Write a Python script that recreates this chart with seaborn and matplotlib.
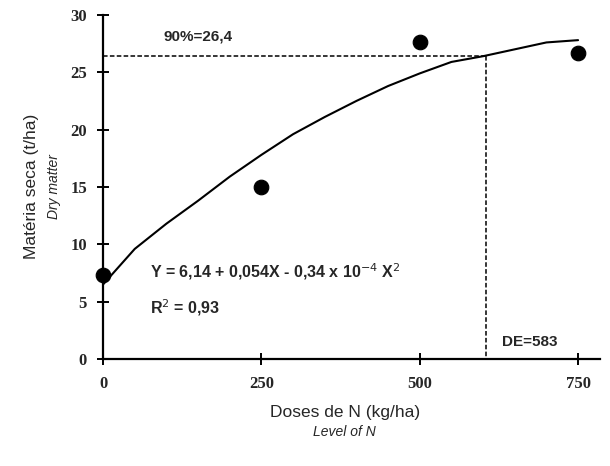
import seaborn as sns
import matplotlib.pyplot as plt
import pandas as pd

# observed points
doses = [0, 250, 500, 750]
materia_seca = [7.3, 15.0, 27.6, 26.7]

# fitted curve
curve_x = [0, 50, 100, 150, 200, 250, 300, 350, 400, 450, 500, 550, 600, 650, 700, 750]
curve_y = [6.5, 9.6, 11.8, 13.8, 15.9, 17.8, 19.6, 21.1, 22.5, 23.8, 24.9, 25.9, 26.4, 27.0, 27.6, 27.8]

# 90% reference lines
ref_h_x = [0, 605]
ref_h_y = [26.4, 26.4]
ref_v_x = [605, 605]
ref_v_y = [26.4, 0]

x_ticks = [0, 250, 500, 750]
x_tick_labels = ["0", "250", "500", "750"]
y_ticks = [0, 5, 10, 15, 20, 25, 30]

sns.set_style("white")
plt.rcParams['font.family'] = ['Liberation Sans', 'DejaVu Sans']

fig = plt.figure(figsize=(6.1, 4.66), dpi=100)
ax = fig.add_axes([0.169, 0.2296, 0.815, 0.7384])

df_curve = pd.DataFrame({'x': curve_x, 'y': curve_y})
df_pts = pd.DataFrame({'x': doses, 'y': materia_seca})

sns.lineplot(data=df_curve, x='x', y='y', color='black', linewidth=1.5, ax=ax)
ax.plot(ref_h_x, ref_h_y, color='black', linestyle=(0, (3, 1.5)), linewidth=1.1)
ax.plot(ref_v_x, ref_v_y, color='black', linestyle=(0, (3, 1.5)), linewidth=1.1)
sns.scatterplot(data=df_pts, x='x', y='y', color='black', s=110, edgecolor='black',
                zorder=5, clip_on=False, ax=ax)

ax.set_xlim(0, 785)
ax.set_ylim(0, 30)
ax.set_xticks(x_ticks)
ax.set_xticklabels(x_tick_labels)
ax.set_yticks(y_ticks)
ax.set_xlabel("")
ax.set_ylabel("")

for s in ['top', 'right']:
    ax.spines[s].set_visible(False)
for s in ['left', 'bottom']:
    ax.spines[s].set_color('black')
    ax.spines[s].set_linewidth(1.6)

ax.tick_params(axis='both', direction='inout', length=9, width=1.4, color='black',
               left=True, bottom=True)
ax.tick_params(axis='x', pad=8)
ax.tick_params(axis='y', pad=7)
for lab in ax.get_xticklabels() + ax.get_yticklabels():
    lab.set_fontfamily('Liberation Serif')
    lab.set_fontweight('bold')
    lab.set_fontsize(12)

ax.text(95, 28.1, "90%=26,4", fontsize=11, fontweight='bold', va='center')
ax.text(630, 1.5, "DE=583", fontsize=11, fontweight='bold', va='center')
ax.text(74, 7.6, "Y = 6,14 + 0,054X - 0,34 x 10$^{-4}$ X$^{2}$", fontsize=11.5,
        fontweight='bold', va='center')
ax.text(74, 4.5, "R$^{2}$ = 0,93", fontsize=11.5, fontweight='bold', va='center')

fig.text(0.052, 0.6, "Matéria seca (t/ha)", rotation=90, fontsize=12.5,
         ha='center', va='center')
fig.text(0.088, 0.6, "Dry matter", rotation=90, fontsize=10, style='italic',
         ha='center', va='center')
fig.text(0.565, 0.115, "Doses de N (kg/ha)", fontsize=12.5, ha='center', va='center')
fig.text(0.565, 0.072, "Level of N", fontsize=10, style='italic', ha='center', va='center')

fig.savefig("out.png", dpi=100)
